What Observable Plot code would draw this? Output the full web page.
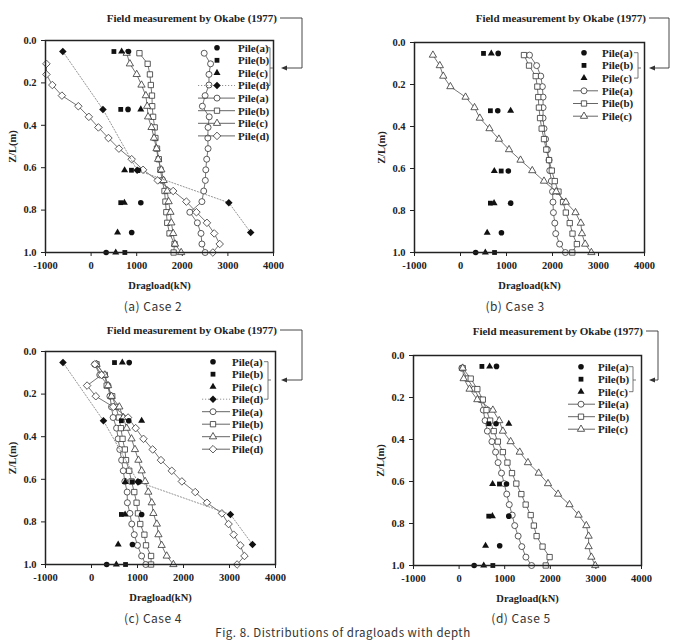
<!DOCTYPE html>
<html>
<head>
<meta charset="utf-8">
<script src="https://cdn.jsdelivr.net/npm/d3@7"></script>
<script src="https://cdn.jsdelivr.net/npm/@observablehq/plot@0.6"></script>
<style>
  html, body { margin: 0; padding: 0; background: #fff; }
  #page { position: relative; width: 687px; height: 642px; overflow: hidden; background: #fff; }
  #page > svg, #page > figure { position: absolute; margin: 0; }
</style>
</head>
<body>
<div id="page"></div>
<script>
// Depth ratios Z/L of the computed nodes along each pile
const depth = [0.06, 0.11, 0.16, 0.21, 0.26, 0.31, 0.36, 0.41, 0.46, 0.51,
               0.56, 0.61, 0.66, 0.71, 0.76, 0.81, 0.86, 0.91, 0.96, 1.0];

// Computed dragloads (kN) — Case 2
const case2PileA = [2480, 2620, 2585, 2585, 2500, 2440, 2590, 2565, 2560, 2565, 2535, 2515, 2505, 2470, 2430, 2165, 2330, 2410, 2430, 2500];
const case2PileB = [1060, 1240, 1290, 1310, 1335, 1340, 1360, 1395, 1410, 1445, 1485, 1520, 1560, 1610, 1630, 1650, 1670, 1720, 1830, 1810];
const case2PileC = [780, 850, 1000, 1105, 1200, 1230, 1250, 1325, 1380, 1435, 1470, 1540, 1590, 1670, 1700, 1740, 1760, 1800, 1840, 1975];
const case2PileD = [null, -980, -980, -850, -640, -280, -50, 160, 380, 610, 890, 1140, 1460, 1800, 2090, 2310, 2540, 2700, 2820, 2670];

// Case 3
const case3PileA = [1500, 1655, 1745, 1780, 1795, 1795, 1795, 1815, 1850, 1890, 1925, 1940, 1975, 2000, 2010, 2020, 2050, 2070, 2155, 2280];
const case3PileB = [1380, 1490, 1635, 1670, 1690, 1705, 1730, 1765, 1815, 1865, 1925, 1985, 2050, 2130, 2230, 2290, 2375, 2435, 2530, 2430];
const case3PileC = [-600, -450, -375, -220, 110, 305, 420, 630, 835, 1055, 1305, 1560, 1815, 2080, 2290, 2500, 2615, 2640, 2710, 2845];

// Case 4
const case4PileA = [70, 180, 360, 400, 435, 470, 545, 580, 615, 655, 690, 725, 775, 780, 835, 875, 930, 1000, 1090, 1180];
const case4PileB = [110, 290, 330, 450, 530, 595, 640, 675, 725, 750, 820, 870, 930, 980, 1010, 1060, 1150, 1185, 1295, 1295];
const case4PileC = [110, 290, 360, 435, 605, 690, 765, 870, 945, 1020, 1090, 1165, 1235, 1310, 1345, 1420, 1455, 1525, 1635, 1780];
const case4PileD = [72, 218, -96, 94, 473, 795, 960, 1130, 1330, 1510, 1745, 1965, 2255, 2510, 2835, 2980, 3090, 3235, 3325, 3165];

// Case 5
const case5PileA = [60, 180, 330, 460, 530, 570, 620, 720, 800, 855, 930, 990, 1045, 1100, 1165, 1220, 1295, 1375, 1465, 1590];
const case5PileB = [80, 255, 400, 520, 600, 680, 760, 850, 960, 1060, 1160, 1255, 1365, 1460, 1570, 1640, 1700, 1830, 1985, 1900];
const case5PileC = [80, 100, 230, 400, 740, 880, 960, 1130, 1330, 1510, 1745, 1950, 2170, 2420, 2620, 2790, 2840, 2840, 2900, 2985];

// Field measurement by Okabe (1977)
const fieldDepth = [0.052, 0.325, 0.612, 0.765, 0.906, 1.0];
const fieldPileA = [820, 810, 1040, 1090, 890, 330];
const fieldPileB = [500, 650, 885, 650, null, 740];
const fieldPileC = [670, 1090, 735, 730, 580, 540];
const fieldPileD = [-620, 260, 1010, 3020, 3500, null];

const xTicks = [-1000, 0, 1000, 2000, 3000, 4000];
const yTicks = [0, 0.2, 0.4, 0.6, 0.8, 1.0];
const pileNames = {a: "Pile(a)", b: "Pile(b)", c: "Pile(c)", d: "Pile(d)"};
const symbolOf = {a: "circle", b: "square", c: "triangle", d: "diamond2"};
const d3SymbolOf = {a: d3.symbolCircle, b: d3.symbolSquare, c: d3.symbolTriangle, d: d3.symbolDiamond2};
const fieldSeries = {a: fieldPileA, b: fieldPileB, c: fieldPileC, d: fieldPileD};
// marker radii (open = computed, solid = measured)
const openR = {a: 3, b: 3, c: 2.7, d: 3.4};
const solidR = {a: 2.8, b: 2.7, c: 2.6, d: 3.4};

const panels = [
  {left: 0, top: 0, width: 343, height: 300, mt: 40, mr: 70, mb: 48, ml: 45,
   computed: {a: case2PileA, b: case2PileB, c: case2PileC, d: case2PileD}, field: ["a", "b", "c", "d"],
   caption: "(a) Case 2", capX: 153, capY: 311,
   titleRight: 277, titleY: 18, brX: 302, arrowY: 68, arrowTip: 281,
   legRow0: 47.7, legStep: 12.6, legSym: 217, legLine: [198, 235], legText: 238, legBr: 270},
  {left: 343, top: 0, width: 344, height: 300, mt: 42, mr: 43, mb: 48, ml: 71,
   computed: {a: case3PileA, b: case3PileB, c: case3PileC}, field: ["a", "b", "c"],
   caption: "(b) Case 3", capX: 515, capY: 311,
   titleRight: 646, titleY: 18, brX: 669, arrowY: 68, arrowTip: 649,
   legRow0: 52.7, legStep: 12.7, legSym: 584, legLine: [573, 598], legText: 602, legBr: 638},
  {left: 0, top: 300, width: 343, height: 310, mt: 51, mr: 68, mb: 46, ml: 45,
   computed: {a: case4PileA, b: case4PileB, c: case4PileC, d: case4PileD}, field: ["a", "b", "c", "d"],
   caption: "(c) Case 4", capX: 153, capY: 623,
   titleRight: 277, titleY: 330, brX: 302, arrowY: 380, arrowTip: 281,
   legRow0: 361.7, legStep: 12.5, legSym: 213, legLine: [202, 230], legText: 232, legBr: 268},
  {left: 343, top: 300, width: 344, height: 310, mt: 55, mr: 46, mb: 45, ml: 70,
   computed: {a: case5PileA, b: case5PileB, c: case5PileC}, field: ["a", "b", "c"],
   caption: "(d) Case 5", capX: 521, capY: 623,
   titleRight: 643, titleY: 331, brX: 658, arrowY: 380, arrowTip: 649,
   legRow0: 366.7, legStep: 12.5, legSym: 581, legLine: [568, 595], legText: 598, legBr: 633}
];

const page = document.getElementById("page");
const serif = "'Liberation Serif', 'Times New Roman', serif";

function rowsOf(values) {
  return depth.map((z, i) => ({z, v: values[i]})).filter(d => d.v != null);
}
function fieldRowsOf(values) {
  return fieldDepth.map((z, i) => ({z, v: values[i]})).filter(d => d.v != null);
}

for (const p of panels) {
  const marks = [];
  // computed distributions: thin gray line with open markers
  for (const key of Object.keys(p.computed)) {
    const rows = rowsOf(p.computed[key]);
    marks.push(Plot.line(rows, {x: "v", y: "z", stroke: "#666", strokeWidth: 0.9}));
    marks.push(Plot.dot(rows, {x: "v", y: "z", symbol: () => symbolOf[key], r: openR[key],
                               fill: "white", stroke: "#333", strokeWidth: 0.8}));
  }
  // field measurements: solid markers (pile d joined by a dotted line)
  for (const key of p.field) {
    const rows = fieldRowsOf(fieldSeries[key]);
    if (key === "d") {
      marks.push(Plot.line(rows, {x: "v", y: "z", stroke: "#888", strokeWidth: 0.9, strokeDasharray: "1.2,1.8"}));
    }
    marks.push(Plot.dot(rows, {x: "v", y: "z", symbol: () => symbolOf[key], r: solidR[key],
                               fill: "#111", stroke: "none"}));
  }
  marks.push(Plot.frame({stroke: "#222", strokeWidth: 1.5}));

  const chart = Plot.plot({
    width: p.width, height: p.height,
    marginTop: p.mt, marginRight: p.mr, marginBottom: p.mb, marginLeft: p.ml,
    style: {fontFamily: serif, fontWeight: "bold", fontSize: "10.5px", color: "#222", background: "transparent", overflow: "visible"},
    x: {domain: [-1000, 4000], ticks: xTicks, tickFormat: d => String(d), tickSize: 4,
        label: "Dragload(kN)", labelAnchor: "center", labelOffset: 36, labelArrow: "none"},
    y: {domain: [0, 1], reverse: true, ticks: yTicks, tickFormat: d => d.toFixed(1), tickSize: 4,
        label: "Z/L(m)", labelAnchor: "center", labelOffset: 37, labelArrow: "none"},
    symbol: {type: "identity"},
    marks
  });
  chart.style.left = p.left + "px";
  chart.style.top = p.top + "px";
  page.appendChild(chart);
}

// Titles, brackets, legends and captions
const ov = d3.select(page).append("svg")
  .attr("width", 687).attr("height", 642)
  .style("left", "0px").style("top", "0px");

const ink = "#333";
for (const p of panels) {
  const g = ov.append("g");
  g.append("text")
    .attr("x", p.titleRight).attr("y", p.titleY).attr("dy", "0.35em")
    .attr("text-anchor", "end")
    .style("font-family", serif).style("font-weight", "bold").style("font-size", "11px")
    .attr("fill", "#222")
    .text("Field measurement by Okabe (1977)");
  g.append("path")
    .attr("d", `M${p.titleRight + 3},${p.titleY}H${p.brX}V${p.arrowY}H${p.arrowTip + 5}`)
    .attr("fill", "none").attr("stroke", ink).attr("stroke-width", 0.9);
  g.append("path")
    .attr("d", `M${p.arrowTip},${p.arrowY}l6,-2.6v5.2z`)
    .attr("fill", ink);

  // legend
  const entries = [
    ...p.field.map(k => ({k, filled: true})),
    ...Object.keys(p.computed).map(k => ({k, filled: false}))
  ];
  entries.forEach((e, i) => {
    const y = p.legRow0 + i * p.legStep;
    if (!e.filled || e.k === "d") {
      g.append("line")
        .attr("x1", p.legLine[0]).attr("x2", p.legLine[1]).attr("y1", y).attr("y2", y)
        .attr("stroke", e.filled ? "#888" : "#555").attr("stroke-width", 0.9)
        .attr("stroke-dasharray", e.filled ? "1.2,1.8" : null);
    }
    const r = e.filled ? solidR[e.k] : openR[e.k];
    g.append("path")
      .attr("transform", `translate(${p.legSym},${y})`)
      .attr("d", d3.symbol().type(d3SymbolOf[e.k]).size(Math.PI * r * r)())
      .attr("fill", e.filled ? "#111" : "white")
      .attr("stroke", e.filled ? "none" : "#333").attr("stroke-width", 0.8);
    g.append("text")
      .attr("x", p.legText).attr("y", y).attr("dy", "0.35em")
      .style("font-family", serif).style("font-weight", "bold").style("font-size", "11px")
      .attr("fill", "#222")
      .text(pileNames[e.k]);
  });
  const nField = p.field.length;
  const yTop = p.legRow0, yBot = p.legRow0 + (nField - 1) * p.legStep;
  g.append("path")
    .attr("d", `M${p.legBr - 4},${yTop}H${p.legBr}V${yBot}H${p.legBr - 4}M${p.legBr},${p.arrowY}h3`)
    .attr("fill", "none").attr("stroke", "#555").attr("stroke-width", 0.8);

  g.append("text")
    .attr("x", p.capX).attr("y", p.capY)
    .attr("text-anchor", "middle")
    .style("font-family", "'Noto Sans CJK KR', 'DejaVu Sans', sans-serif").style("font-size", "12px")
    .style("letter-spacing", "0.5px")
    .attr("fill", "#333")
    .text(p.caption);
}

ov.append("text")
  .attr("x", 343).attr("y", 637)
  .attr("text-anchor", "middle")
  .style("font-family", "'Noto Sans CJK KR', 'DejaVu Sans', sans-serif").style("font-size", "11.5px")
  .style("letter-spacing", "0.5px")
  .attr("fill", "#333")
  .text("Fig. 8. Distributions of dragloads with depth");
</script>
</body>
</html>
